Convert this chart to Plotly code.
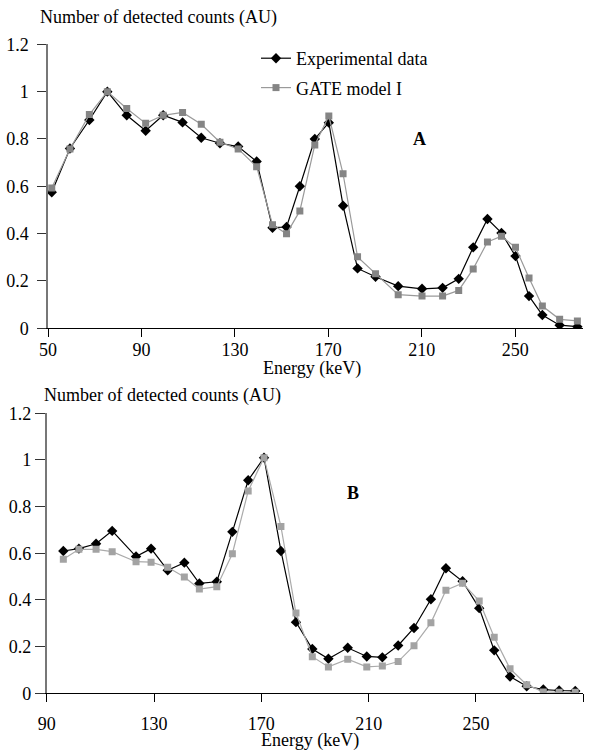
import plotly.graph_objects as go

# ---------------- Data: panel A ----------------
a_energy = [51.6, 59.4, 67.7, 75.4, 83.7, 91.8, 99.3, 107.6, 115.6, 123.6, 131.4, 139.3,
            146.1, 152.1, 157.8, 164.2, 170.2, 176.3, 182.5, 190.2, 199.9, 210.1, 218.9,
            225.8, 232.0, 238.1, 244.1, 250.1, 255.9, 261.6, 269.0, 276.6]
a_exp = [0.575, 0.76, 0.88, 1.0, 0.90, 0.835, 0.90, 0.87, 0.805, 0.782, 0.768, 0.705,
         0.425, 0.428, 0.60, 0.80, 0.869, 0.518, 0.253, 0.218, 0.178, 0.167, 0.171,
         0.209, 0.342, 0.462, 0.403, 0.305, 0.136, 0.056, 0.013, 0.007]
a_gate = [0.593, 0.758, 0.903, 1.0, 0.929, 0.866, 0.90, 0.912, 0.862, 0.786, 0.758, 0.683,
          0.438, 0.399, 0.496, 0.775, 0.897, 0.653, 0.302, 0.230, 0.142, 0.136, 0.136,
          0.160, 0.251, 0.365, 0.389, 0.342, 0.213, 0.094, 0.038, 0.031]

# ---------------- Data: panel B ----------------
b_energy = [96.2, 102.0, 108.4, 114.4, 123.3, 128.9, 135.1, 141.3, 146.9, 153.4, 159.2,
            165.1, 171.0, 177.3, 182.9, 189.0, 195.0, 202.2, 209.3, 215.1, 221.0, 226.9,
            233.2, 238.8, 245.0, 251.2, 256.8, 262.7, 268.9, 275.1, 281.0, 287.0]
b_exp = [0.610, 0.620, 0.641, 0.696, 0.586, 0.620, 0.527, 0.560, 0.471, 0.478, 0.692,
         0.913, 1.01, 0.610, 0.305, 0.190, 0.148, 0.195, 0.158, 0.154, 0.205, 0.280,
         0.403, 0.536, 0.480, 0.365, 0.184, 0.072, 0.030, 0.016, 0.012, 0.010]
b_gate = [0.574, 0.617, 0.617, 0.607, 0.564, 0.562, 0.540, 0.498, 0.447, 0.457, 0.598,
          0.867, 1.01, 0.715, 0.344, 0.157, 0.113, 0.146, 0.113, 0.117, 0.136, 0.204,
          0.302, 0.442, 0.472, 0.396, 0.240, 0.105, 0.037, 0.006, 0.004, 0.004]

a_xticks = [50, 90, 130, 170, 210, 250]
b_xticks = [90, 130, 170, 210, 250, 290]
y_ticks = [0, 0.2, 0.4, 0.6, 0.8, 1, 1.2]
y_ticktext = ["0", "0.2", "0.4", "0.6", "0.8", "1", "1.2"]

W, H = 595, 751
FONT = "Liberation Serif, Times New Roman, serif"
FS = 18


def px(x):
    return x / W


def py(y):
    return 1 - y / H


fig = go.Figure()

fig.add_trace(go.Scatter(x=a_energy, y=a_exp, name="Experimental data", mode="lines+markers",
                         line=dict(color="black", width=1.2),
                         marker=dict(symbol="diamond", size=8, color="black"),
                         xaxis="x", yaxis="y", legendgroup="e"))
fig.add_trace(go.Scatter(x=a_energy, y=a_gate, name="GATE model I", mode="lines+markers",
                         line=dict(color="#9a9a9a", width=1.2),
                         marker=dict(symbol="square", size=7, color="#858585"),
                         xaxis="x", yaxis="y", legendgroup="g"))
fig.add_trace(go.Scatter(x=b_energy, y=b_exp, name="Experimental data", mode="lines+markers",
                         line=dict(color="black", width=1.2),
                         marker=dict(symbol="diamond", size=8, color="black"),
                         xaxis="x2", yaxis="y2", showlegend=False))
fig.add_trace(go.Scatter(x=b_energy, y=b_gate, name="GATE model I", mode="lines+markers",
                         line=dict(color="#ababab", width=1.2),
                         marker=dict(symbol="square", size=7, color="#a3a3a3"),
                         xaxis="x2", yaxis="y2", showlegend=False))

xcommon = dict(showline=True, linecolor="black", linewidth=1, ticks="outside", ticklen=8,
               tickcolor="black", tickwidth=1, showgrid=False, zeroline=False,
               automargin=False,
               tickfont=dict(family=FONT, size=FS, color="black"), fixedrange=True)
ycommon = dict(showline=True, linecolor="#777777", linewidth=1.5, ticks="outside",
               tickcolor="#333333", tickwidth=1, showgrid=False, zeroline=False,
               automargin=False,
               tickvals=y_ticks, ticktext=y_ticktext,
               tickfont=dict(family=FONT, size=FS, color="black"), range=[0, 1.2],
               fixedrange=True)

fig.update_layout(
    width=W, height=H,
    margin=dict(l=0, r=0, t=0, b=0, autoexpand=False),
    paper_bgcolor="white", plot_bgcolor="white",
    font=dict(family=FONT, size=FS, color="black"),
    xaxis=dict(domain=[px(48), px(583)], range=[50, 279], tickvals=a_xticks,
               anchor="y", ticklabelstandoff=-3, **xcommon),
    yaxis=dict(domain=[py(328.3), py(44.3)], anchor="x", ticklen=9, ticklabelstandoff=5,
               **ycommon),
    xaxis2=dict(domain=[px(46.7), px(583.3)], range=[90, 290], tickvals=b_xticks,
                anchor="y2", ticklabelstandoff=6, **xcommon),
    yaxis2=dict(domain=[py(693.3), py(413.3)], anchor="x2", ticklen=10, ticklabelstandoff=0,
                **ycommon),
    showlegend=True,
    legend=dict(x=px(256), y=py(40), xanchor="left", yanchor="top",
                bgcolor="rgba(0,0,0,0)", font=dict(family=FONT, size=FS),
                tracegroupgap=3, itemwidth=30),
)

annotations = [
    dict(text="Number of detected counts (AU)", x=px(38), y=py(18), xref="paper", yref="paper",
         xanchor="left", yanchor="middle", showarrow=False, font=dict(family=FONT, size=FS)),
    dict(text="Number of detected counts (AU)", x=px(42), y=py(395), xref="paper", yref="paper",
         xanchor="left", yanchor="middle", showarrow=False, font=dict(family=FONT, size=FS)),
    dict(text="Energy (keV)", x=px(312), y=py(368), xref="paper", yref="paper",
         xanchor="center", yanchor="middle", showarrow=False, font=dict(family=FONT, size=FS)),
    dict(text="Energy (keV)", x=px(310), y=py(740), xref="paper", yref="paper",
         xanchor="center", yanchor="middle", showarrow=False, font=dict(family=FONT, size=FS)),
    dict(text="<b>A</b>", x=px(419), y=py(139), xref="paper", yref="paper",
         xanchor="center", yanchor="middle", showarrow=False, font=dict(family=FONT, size=FS)),
    dict(text="<b>B</b>", x=px(353), y=py(493), xref="paper", yref="paper",
         xanchor="center", yanchor="middle", showarrow=False, font=dict(family=FONT, size=FS)),
]
fig.update_layout(annotations=annotations)

# remove the default 8px page margin so the figure fills the window exactly
fig.write_html("out.html", config={"displayModeBar": False},
               post_script="document.body.style.margin='0px';document.body.style.overflow='hidden';")
